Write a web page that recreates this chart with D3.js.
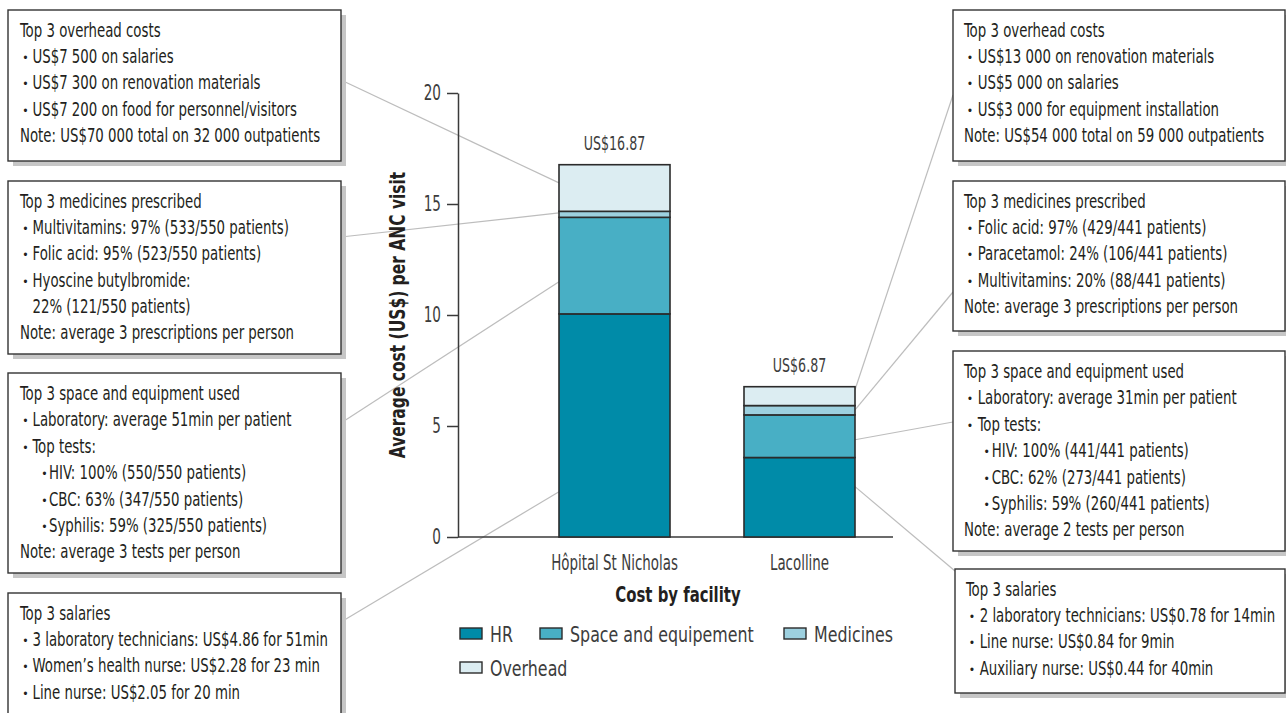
<!DOCTYPE html>
<html>
<head>
<meta charset="utf-8">
<script src="https://cdn.jsdelivr.net/npm/d3@7"></script>
<style>
  body { margin: 0; background: #fff; }
  svg text { font-family: "DejaVu Sans Condensed", "DejaVu Sans", sans-serif; fill: #231f20; }
</style>
</head>
<body>
<div id="chart"></div>
<script>
const width = 1286;
const height = 713;

// data
const facilities = ["Hôpital St Nicholas", "Lacolline"];
const seriesNames = ["HR", "Space and equipement", "Medicines", "Overhead"];
const hrValues = [10.05, 3.58];
const spaceValues = [4.35, 1.92];
const medicineValues = [0.27, 0.42];
const overheadValues = [2.1, 0.85];
const totalLabels = ["US$16.87", "US$6.87"];
const yTicks = [0, 5, 10, 15, 20];
const colors = ["#008ba8", "#48afc5", "#9dd0df", "#dcedf2"];

// where each note box points to on its bar (value on the y scale)
const anchorValues = [
    [2.04, 11.5, 14.6, 15.95],   // Hôpital St Nicholas: HR, space, medicines, overhead
    [2.27, 4.38, 5.73, 6.63]     // Lacolline
];

// note boxes: lv 0 = plain line, 1 = bullet, 2 = sub-bullet, 3 = continued bullet
const leftNotes = [
    [["Top 3 overhead costs", 0], ["US$7 500 on salaries", 1], ["US$7 300 on renovation materials", 1],
     ["US$7 200 on food for personnel/visitors", 1], ["Note: US$70 000 total on 32 000 outpatients", 0]],
    [["Top 3 medicines prescribed", 0], ["Multivitamins: 97% (533/550 patients)", 1], ["Folic acid: 95% (523/550 patients)", 1],
     ["Hyoscine butylbromide:", 1], ["22% (121/550 patients)", 3], ["Note: average 3 prescriptions per person", 0]],
    [["Top 3 space and equipment used", 0], ["Laboratory: average 51min per patient", 1], ["Top tests:", 1],
     ["HIV: 100% (550/550 patients)", 2], ["CBC: 63% (347/550 patients)", 2], ["Syphilis: 59% (325/550 patients)", 2],
     ["Note: average 3 tests per person", 0]],
    [["Top 3 salaries", 0], ["3 laboratory technicians: US$4.86 for 51min", 1], ["Women’s health nurse: US$2.28 for 23 min", 1],
     ["Line nurse: US$2.05 for 20 min", 1]]
];
const rightNotes = [
    [["Top 3 overhead costs", 0], ["US$13 000 on renovation materials", 1], ["US$5 000 on salaries", 1],
     ["US$3 000 for equipment installation", 1], ["Note: US$54 000 total on 59 000 outpatients", 0]],
    [["Top 3 medicines prescribed", 0], ["Folic acid: 97% (429/441 patients)", 1], ["Paracetamol: 24% (106/441 patients)", 1],
     ["Multivitamins: 20% (88/441 patients)", 1], ["Note: average 3 prescriptions per person", 0]],
    [["Top 3 space and equipment used", 0], ["Laboratory: average 31min per patient", 1], ["Top tests:", 1],
     ["HIV: 100% (441/441 patients)", 2], ["CBC: 62% (273/441 patients)", 2], ["Syphilis: 59% (260/441 patients)", 2],
     ["Note: average 2 tests per person", 0]],
    [["Top 3 salaries", 0], ["2 laboratory technicians: US$0.78 for 14min", 1], ["Line nurse: US$0.84 for 9min", 1],
     ["Auxiliary nurse: US$0.44 for 40min", 1]]
];

// box layout: [x, y, w, h, y where the connector leaves the box]
// listed top to bottom: overhead, medicines, space, HR
const leftBoxes = [[8, 10, 333, 151, 80], [8, 181, 333, 173, 237], [8, 373, 333, 200, 423], [8, 593, 333, 140, 622]];
const rightBoxes = [[953, 10, 332, 151, 95], [953, 181, 332, 150, 292], [953, 351, 332, 200, 422], [955, 569, 330, 124, 571]];
const boxSeries = [3, 2, 1, 0];

const svg = d3.select("#chart").append("svg")
    .attr("width", width)
    .attr("height", height);

// the original uses a condensed face, so squeeze text sideways
function label(parent, x, y, str, size, sx, anchor) {
    return parent.append("text")
        .attr("transform", `translate(${x},${y}) scale(${sx},1)`)
        .attr("text-anchor", anchor || "start")
        .style("font-size", size + "px")
        .text(str);
}

const y = d3.scaleLinear().domain([0, 20]).range([537, 93]);
const x = d3.scaleBand().domain(facilities).range([522, 892]).paddingInner(0.4).paddingOuter(0.2);

const stackData = facilities.map((f, i) => ({
    facility: f,
    "HR": hrValues[i],
    "Space and equipement": spaceValues[i],
    "Medicines": medicineValues[i],
    "Overhead": overheadValues[i]
}));
const series = d3.stack().keys(seriesNames)(stackData);

// connector lines
function drawConnectors(boxes, facIndex, side) {
    boxes.forEach((b, i) => {
        const s = boxSeries[i];
        const x1 = side === "left" ? b[0] + b[2] : b[0];
        const x2 = side === "left" ? x(facilities[facIndex]) : x(facilities[facIndex]) + x.bandwidth();
        svg.append("line")
            .attr("x1", x1).attr("y1", b[4])
            .attr("x2", x2).attr("y2", y(anchorValues[facIndex][s]))
            .attr("stroke", "#bdbdbd")
            .attr("stroke-width", 1.2);
    });
}
drawConnectors(leftBoxes, 0, "left");
drawConnectors(rightBoxes, 1, "right");

// y axis
const tickSx = 0.72;
const yAxis = svg.append("g")
    .attr("transform", "translate(458,0)")
    .call(d3.axisLeft(y).tickValues(yTicks).tickSize(11).tickSizeOuter(0).tickPadding(6));
yAxis.select(".domain").attr("stroke", "#3a3a3a").attr("stroke-width", 1.5);
yAxis.selectAll(".tick line").attr("stroke", "#3a3a3a").attr("stroke-width", 1.5);
yAxis.selectAll(".tick text")
    .attr("x", -17 / tickSx)
    .attr("transform", `scale(${tickSx},1)`)
    .style("font-size", "21px")
    .style("fill", "#3c3c3c")
    .style("font-family", "'DejaVu Sans Condensed', sans-serif");

// x baseline
svg.append("line")
    .attr("x1", 458).attr("x2", 893)
    .attr("y1", y(0)).attr("y2", y(0))
    .attr("stroke", "#3a3a3a").attr("stroke-width", 1.5);

// bars
svg.selectAll("g.layer")
    .data(series)
    .enter().append("g")
    .attr("class", "layer")
    .attr("fill", (d, i) => colors[i])
    .selectAll("rect")
    .data(d => d)
    .enter().append("rect")
    .attr("x", d => x(d.data.facility))
    .attr("y", d => y(d[1]))
    .attr("width", x.bandwidth())
    .attr("height", d => y(d[0]) - y(d[1]))
    .attr("stroke", "#2b2b2b")
    .attr("stroke-width", 1.6);

// total labels
facilities.forEach((f, i) => {
    const top = y(d3.sum(series, s => s[i][1] - s[i][0]));
    label(svg, x(f) + x.bandwidth() / 2, top - 15, totalLabels[i], 19, 0.74, "middle")
        .style("fill", "#3c3c3c");
});

// category labels
facilities.forEach(f => {
    label(svg, x(f) + x.bandwidth() / 2, 570, f, 21, 0.71, "middle")
        .style("fill", "#3c3c3c");
});

// axis titles
label(svg, 678, 602, "Cost by facility", 21.5, 0.77, "middle")
    .style("font-weight", "bold");

svg.append("text")
    .attr("transform", "translate(405,315) rotate(-90) scale(0.82,1)")
    .attr("text-anchor", "middle")
    .style("font-size", "21px")
    .style("font-weight", "bold")
    .text("Average cost (US$) per ANC visit");

// legend
const legendPos = [[460, 634], [540, 634], [784, 634], [460, 668]];
seriesNames.forEach((name, i) => {
    const g = svg.append("g")
        .attr("transform", `translate(${legendPos[i][0]},${legendPos[i][1]})`);
    g.append("rect")
        .attr("x", 0).attr("y", -6)
        .attr("width", 22).attr("height", 11)
        .attr("fill", colors[i])
        .attr("stroke", "#2b2b2b")
        .attr("stroke-width", 1.4);
    label(g, 30, 8, name, 21, 0.84).style("fill", "#3c3c3c");
});

// note boxes
function drawBoxes(boxes, notes, side) {
    boxes.forEach((b, i) => {
        const g = svg.append("g").attr("transform", `translate(${b[0]},${b[1]})`);
        g.append("rect")
            .attr("x", 5).attr("y", 5)
            .attr("width", b[2]).attr("height", b[3])
            .attr("fill", "#c6c6c6");
        g.append("rect")
            .attr("width", b[2]).attr("height", b[3])
            .attr("fill", "#fff")
            .attr("stroke", "#333")
            .attr("stroke-width", 1.4);
        // title x, bullet centre, bullet text x, sub-bullet centre, sub-bullet text x
        const off = side === "left" ? [12, 17.5, 24.5, 36.5, 41] : [11, 17, 24.7, 33.7, 38.7];
        const step = (b[3] > 190) ? 26.4 : 26.2;
        notes[i].forEach((ln, j) => {
            const yy = 27 + j * step;
            const lv = ln[1];
            if (lv === 1 || lv === 2) {
                label(g, lv === 1 ? off[1] : off[3], yy - 1, "•", 12, 1, "middle");
            }
            const tx = lv === 0 ? off[0] : (lv === 2 ? off[4] : off[2]);
            label(g, tx, yy, ln[0], 19, 0.78);
        });
    });
}
drawBoxes(leftBoxes, leftNotes, "left");
drawBoxes(rightBoxes, rightNotes, "right");
</script>
</body>
</html>
